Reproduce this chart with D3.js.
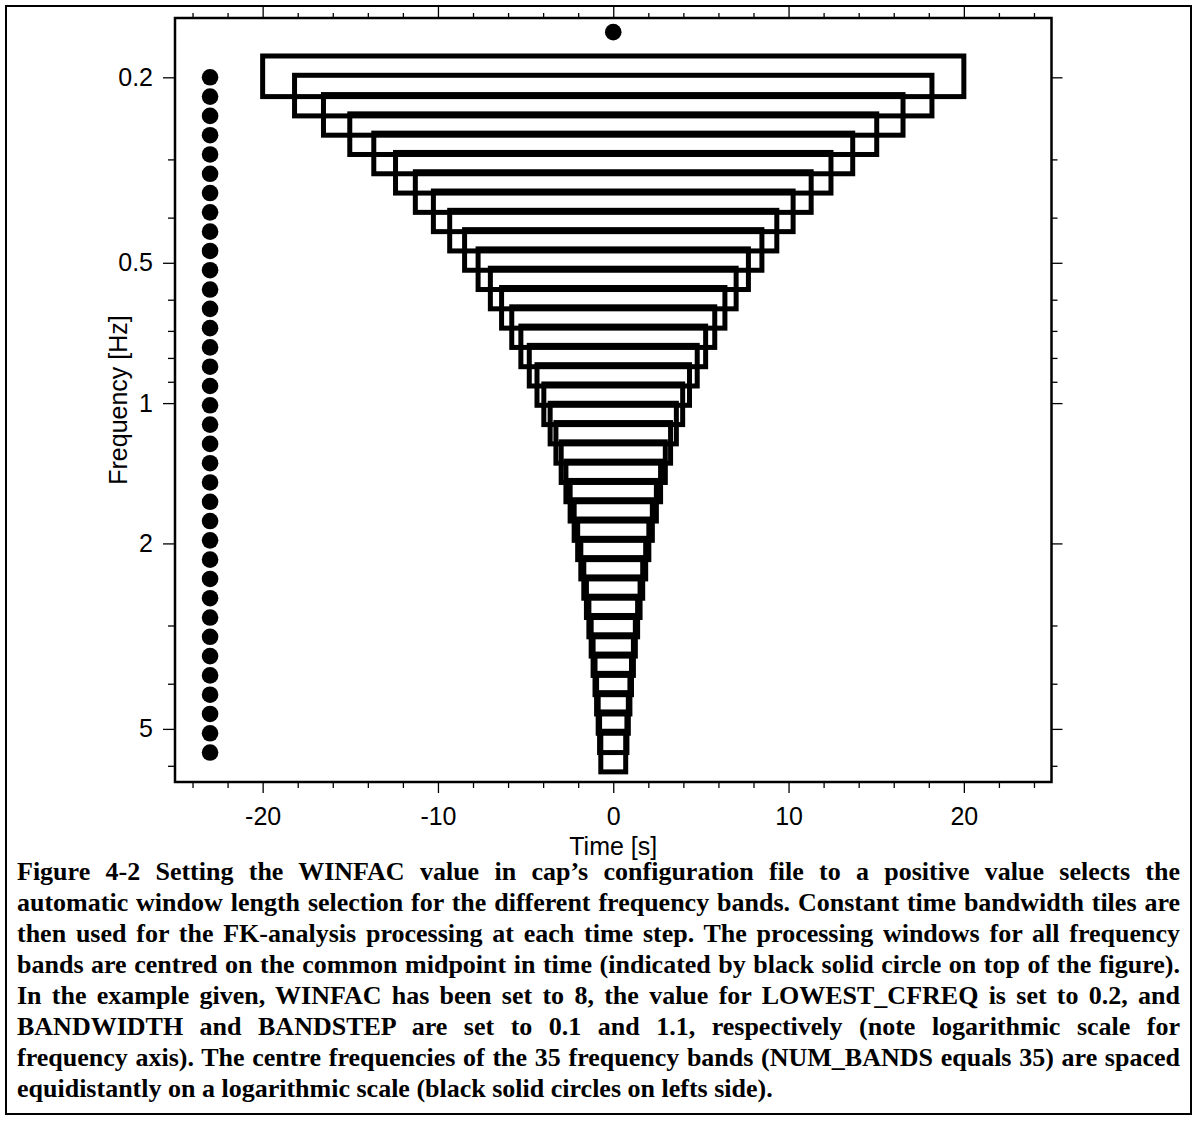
<!doctype html>
<html lang="en">
  <head>
    <meta charset="utf-8">
    <title>WINFAC window tiles</title>
    <script src="https://d3js.org/d3.v7.min.js"></script>
    <style>
      body { margin: 0; background: #fff; }
      #wrap { position: relative; width: 1197px; height: 1137px; }
      #caption {
        position: absolute; left: 17px; top: 856px; width: 1163px;
        font-family: "Liberation Serif", "Times New Roman", serif;
        font-weight: bold; font-size: 26px; line-height: 31px; color: #000;
      }
      #caption div { white-space: nowrap; text-align: justify; text-align-last: justify; }
      #caption div.last { text-align-last: left; }
    </style>
  </head>
  <body>
    <div id="wrap">
      <div id="my_dataviz"></div>
      <div id="caption"></div>
    </div>

    <script>
      // centre frequencies of the bands [Hz] (left column of dots)
      var centreFreqs = [0.2, 0.22, 0.242, 0.2662, 0.2928, 0.3221, 0.3543, 0.3897, 0.4287, 0.4716,
                         0.5187, 0.5706, 0.6277, 0.6905, 0.7595, 0.8354, 0.919, 1.0109, 1.112, 1.2232,
                         1.3455, 1.48, 1.6281, 1.7909, 1.9699, 2.1669, 2.3836, 2.622, 2.8842, 3.1726,
                         3.4899, 3.8389, 4.2228, 4.645, 5.1095, 5.6205];
      // half window length of each band [s]
      var windowHalf = [20, 18.18, 16.53, 15.03, 13.66, 12.42, 11.29, 10.26, 9.33, 8.48,
                        7.71, 7.01, 6.37, 5.79, 5.27, 4.79, 4.35, 3.96, 3.6, 3.27,
                        2.97, 2.7, 2.46, 2.23, 2.03, 1.85, 1.68, 1.53, 1.39, 1.26,
                        1.15, 1.04, 0.95, 0.86, 0.78, 0.71];
      var bandwidth = 0.1;
      var dotTime = -23;
      var midpoint = {time: 0, freq: 0.16};

      var xMajor = [-20, -10, 0, 10, 20];
      var xMinor = [-24, -22, -18, -16, -14, -12, -8, -6, -4, -2, 2, 4, 6, 8, 12, 14, 16, 18, 22, 24];
      var yMajor = [0.2, 0.5, 1, 2, 5];
      var yMinor = [0.3, 0.4, 0.6, 0.7, 0.8, 0.9, 3, 4, 6];

      var captionLines = [
        "Figure 4-2 Setting the WINFAC value in cap\u2019s configuration file to a positive value selects the",
        "automatic window length selection for the different frequency bands. Constant time bandwidth tiles are",
        "then used for the FK-analysis processing at each time step. The processing windows for all frequency",
        "bands are centred on the common midpoint in time (indicated by black solid circle on top of the figure).",
        "In the example given, WINFAC has been set to 8, the value for LOWEST_CFREQ is set to 0.2, and",
        "BANDWIDTH and BANDSTEP are set to 0.1 and 1.1, respectively (note logarithmic scale for",
        "frequency axis). The centre frequencies of the 35 frequency bands (NUM_BANDS equals 35) are spaced",
        "equidistantly on a logarithmic scale (black solid circles on lefts side)."
      ];

      var bands = centreFreqs.map(function(f, i) {
        return {freq: f, half: windowHalf[i]};
      });

      var W = 1197, H = 1137;
      var plotL = 175, plotR = 1051.5, plotT = 18, plotB = 782;

      var svg = d3.select("#my_dataviz")
        .append("svg")
          .attr("width", W)
          .attr("height", H)
          .style("position", "absolute")
          .style("left", 0)
          .style("top", 0);

      // outer box around figure + caption
      svg.append("rect")
        .attr("x", 6).attr("y", 6)
        .attr("width", 1185).attr("height", 1108)
        .attr("fill", "none")
        .attr("stroke", "#000")
        .attr("stroke-width", 2);

      var x = d3.scaleLinear()
        .domain([-25, 25])
        .range([plotL, plotR]);

      var y = d3.scaleLog()
        .domain([0.1492, 6.5])
        .range([plotT, plotB]);

      var font = "'Liberation Sans', Arial, Helvetica, sans-serif";

      function styleAxis(g) {
        g.select(".domain").remove();
        g.selectAll(".tick line").attr("stroke", "#000").attr("stroke-width", 1.3);
        g.selectAll(".tick text")
          .attr("fill", "#000")
          .style("font-family", font)
          .style("font-size", "25px");
      }

      function plain(d) { return String(d); }

      // bottom axis
      svg.append("g")
        .attr("transform", "translate(0," + plotB + ")")
        .call(d3.axisBottom(x).tickValues(xMajor).tickSize(11).tickPadding(14).tickFormat(plain))
        .call(styleAxis);
      svg.append("g")
        .attr("transform", "translate(0," + plotB + ")")
        .call(d3.axisBottom(x).tickValues(xMinor).tickSize(6).tickFormat(""))
        .call(styleAxis);

      // top axis (no labels)
      svg.append("g")
        .attr("transform", "translate(0," + plotT + ")")
        .call(d3.axisTop(x).tickValues(xMajor).tickSize(11).tickFormat(""))
        .call(styleAxis);
      svg.append("g")
        .attr("transform", "translate(0," + plotT + ")")
        .call(d3.axisTop(x).tickValues(xMinor).tickSize(5).tickFormat(""))
        .call(styleAxis);

      // left axis
      svg.append("g")
        .attr("transform", "translate(" + plotL + ",0)")
        .call(d3.axisLeft(y).tickValues(yMajor).tickSize(12).tickPadding(10).tickFormat(plain))
        .call(styleAxis);
      svg.append("g")
        .attr("transform", "translate(" + plotL + ",0)")
        .call(d3.axisLeft(y).tickValues(yMinor).tickSize(7).tickFormat(""))
        .call(styleAxis);

      // right axis
      svg.append("g")
        .attr("transform", "translate(" + plotR + ",0)")
        .call(d3.axisRight(y).tickValues(yMajor).tickSize(11).tickFormat(""))
        .call(styleAxis);
      svg.append("g")
        .attr("transform", "translate(" + plotR + ",0)")
        .call(d3.axisRight(y).tickValues(yMinor).tickSize(6).tickFormat(""))
        .call(styleAxis);

      // plot frame
      svg.append("rect")
        .attr("x", plotL).attr("y", plotT)
        .attr("width", plotR - plotL).attr("height", plotB - plotT)
        .attr("fill", "none")
        .attr("stroke", "#000")
        .attr("stroke-width", 2.5);

      // axis titles
      svg.append("text")
        .attr("x", (plotL + plotR) / 2)
        .attr("y", 855)
        .attr("text-anchor", "middle")
        .style("font-family", font)
        .style("font-size", "25px")
        .text("Time [s]");

      svg.append("text")
        .attr("transform", "translate(127," + (plotT + plotB) / 2 + ") rotate(-90)")
        .attr("text-anchor", "middle")
        .style("font-family", font)
        .style("font-size", "25px")
        .text("Frequency [Hz]");

      // time windows of each band
      svg.append("g")
        .selectAll("rect")
        .data(bands)
        .enter()
        .append("rect")
          .attr("x", function(d) { return x(-d.half); })
          .attr("y", function(d) { return y(d.freq * (1 - bandwidth)); })
          .attr("width", function(d) { return x(d.half) - x(-d.half); })
          .attr("height", function(d) { return y(d.freq * (1 + bandwidth)) - y(d.freq * (1 - bandwidth)); })
          .attr("fill", "none")
          .attr("stroke", "#000")
          .attr("stroke-width", 5);

      // centre frequencies
      svg.append("g")
        .selectAll("circle")
        .data(centreFreqs)
        .enter()
        .append("circle")
          .attr("cx", x(dotTime))
          .attr("cy", function(d) { return y(d); })
          .attr("r", 8.3)
          .attr("fill", "#000");

      // common midpoint
      svg.append("circle")
        .attr("cx", x(midpoint.time))
        .attr("cy", y(midpoint.freq))
        .attr("r", 8.3)
        .attr("fill", "#000");

      // caption
      d3.select("#caption")
        .selectAll("div")
        .data(captionLines)
        .enter()
        .append("div")
          .attr("class", function(d, i) { return i == captionLines.length - 1 ? "last" : null; })
          .text(function(d) { return d; });
    </script>
  </body>
</html>
